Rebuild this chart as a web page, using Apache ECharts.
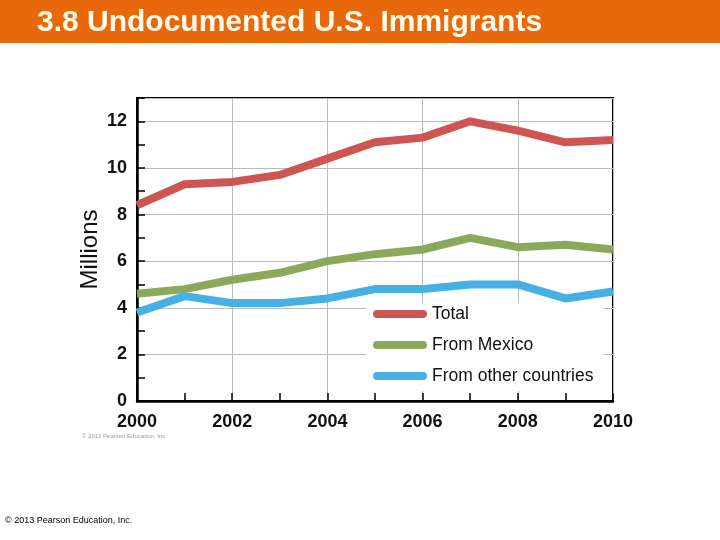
<!DOCTYPE html>
<html>
<head>
<meta charset="utf-8">
<script src="https://cdn.jsdelivr.net/npm/echarts@6/dist/echarts.min.js"></script>
<style>
  html, body { margin: 0; padding: 0; background: #fff; }
  #chart { width: 720px; height: 540px; }
</style>
</head>
<body>
<div id="chart"></div>
<script>
var years = [2000, 2001, 2002, 2003, 2004, 2005, 2006, 2007, 2008, 2009, 2010];
var total = [8.4, 9.3, 9.4, 9.7, 10.4, 11.1, 11.3, 12.0, 11.6, 11.1, 11.2];
var fromMexico = [4.6, 4.8, 5.2, 5.5, 6.0, 6.3, 6.5, 7.0, 6.6, 6.7, 6.5];
var fromOther = [3.8, 4.5, 4.2, 4.2, 4.4, 4.8, 4.8, 5.0, 5.0, 4.4, 4.7];

var sans = "'Liberation Sans', Arial, sans-serif";
var pill = 'path://M4,0 H50 A4,4 0 0 1 50,8 H4 A4,4 0 0 1 4,0 Z';

function pairs(vals) {
  return years.map(function (y, i) { return [y, vals[i]]; });
}

var dom = document.getElementById('chart');
var myChart = echarts.init(dom);
var option = {
  animation: false,
  graphic: [
    { type: 'rect', left: 0, top: 0, shape: { width: 720, height: 43 }, style: { fill: '#e8690c' } },
    { type: 'text', left: 37, top: 8, style: { text: '3.8 Undocumented U.S. Immigrants', fill: '#fffbe8', font: 'bold 30px "Liberation Sans", Arial, sans-serif' } },
    { type: 'text', left: 82, top: 433, style: { text: '© 2013 Pearson Education, Inc.', fill: '#999', font: '6px "Liberation Sans", Arial, sans-serif' } },
    { type: 'text', left: 5, top: 516, style: { text: '© 2013 Pearson Education, Inc.', fill: '#000', font: '9px "Liberation Sans", Arial, sans-serif' } }
  ],
  grid: {
    left: 137, right: 107, top: 98, bottom: 139,
    show: true, borderColor: '#000', borderWidth: 2, backgroundColor: '#fff'
  },
  legend: {
    orient: 'vertical',
    left: 366, top: 303,
    backgroundColor: '#fff',
    padding: [0, 10, 4, 7],
    itemGap: 9,
    itemWidth: 54, itemHeight: 9,
    textStyle: { fontFamily: sans, fontSize: 17.5, color: '#111', lineHeight: 22 },
    data: [
      { name: 'Total', icon: pill },
      { name: 'From Mexico', icon: pill },
      { name: 'From other countries', icon: pill }
    ]
  },
  xAxis: {
    type: 'value', min: 2000, max: 2010, interval: 2,
    axisLine: { lineStyle: { color: '#000', width: 2.5 } },
    axisTick: { inside: true, length: 8, lineStyle: { color: '#000', width: 1.5 } },
    minorTick: { show: true, splitNumber: 2, length: 8, lineStyle: { color: '#000', width: 1.5 } },
    splitLine: { show: true, lineStyle: { color: '#bbb', width: 1 } },
    axisLabel: {
      color: '#111', fontFamily: sans, fontWeight: 'bold', fontSize: 18, margin: 12,
      formatter: function (v) { return String(v); }
    }
  },
  yAxis: {
    type: 'value', min: 0, max: 13, interval: 2,
    name: 'Millions', nameLocation: 'middle', nameGap: 35, nameRotate: 90, nameMoveOverlap: false,
    nameTextStyle: { fontFamily: sans, fontSize: 24, color: '#111' },
    axisLine: { show: true, lineStyle: { color: '#000', width: 2.5 } },
    axisTick: { show: true, inside: true, length: 8, lineStyle: { color: '#000', width: 1.5 } },
    minorTick: { show: true, splitNumber: 2, length: 8, lineStyle: { color: '#000', width: 1.5 } },
    splitLine: { show: true, lineStyle: { color: '#bbb', width: 1 } },
    axisLabel: { color: '#111', fontFamily: sans, fontWeight: 'bold', fontSize: 18, margin: 10, showMaxLabel: false }
  },
  series: [
    { name: 'Total', type: 'line', data: pairs(total), symbol: 'none', color: '#cf5552',
      lineStyle: { width: 8, join: 'round' } },
    { name: 'From Mexico', type: 'line', data: pairs(fromMexico), symbol: 'none', color: '#8aa95b',
      lineStyle: { width: 8, join: 'round' } },
    { name: 'From other countries', type: 'line', data: pairs(fromOther), symbol: 'none', color: '#45b0e3',
      lineStyle: { width: 8, join: 'round' } }
  ]
};
myChart.setOption(option, true);
</script>
</body>
</html>
